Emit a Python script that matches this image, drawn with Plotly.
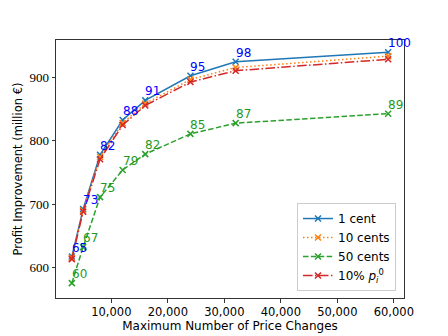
import plotly.graph_objects as go

# -----data-----
max_changes = [3000, 5000, 8000, 12000, 16000, 24000, 32000, 59000]
cent_1 = [617, 692, 778, 833, 864, 903, 925, 940]
cents_10 = [615, 690, 775, 828, 859, 897, 916, 934]
cents_50 = [575, 632, 711, 754, 779, 811, 828, 843]
pct_10 = [613, 688, 771, 825, 856, 893, 911, 929]
labels_1 = ["65", "73", "82", "88", "91", "95", "98", "100"]
labels_50 = ["60", "67", "75", "79", "82", "85", "87", "89"]
# --------------

series = [
    ("1 cent", cent_1, "#1f77b4", "solid"),
    ("10 cents", cents_10, "#ff7f0e", "1.5px,2.5px"),
    ("50 cents", cents_50, "#2ca02c", "5.5px,2.4px"),
    ("10% <i>p</i><sub><i>i</i></sub><sup>0</sup>", pct_10, "#d62728", "9.6px,2.4px,1.5px,2.4px"),
]

fig = go.Figure()
for name, ys, col, dash in series:
    fig.add_trace(go.Scatter(
        x=max_changes, y=ys, name=name, mode="lines+markers",
        line=dict(color=col, width=1.5, dash=dash),
        marker=dict(symbol="x-thin", size=6, line=dict(color=col, width=1.5), color=col)))

annots = []
for xs, ys, labs, col in [(max_changes, cent_1, labels_1, "blue"),
                          (max_changes, cents_50, labels_50, "#1f9a1f")]:
    for x, y, t in zip(xs, ys, labs):
        annots.append(dict(x=x, y=y, text=t, showarrow=False, xanchor="left", yanchor="bottom",
                           xshift=-2, yshift=0, font=dict(family="DejaVu Sans", size=12, color=col)))

# page body has an 8px margin, so the figure is sized to fit inside the window
fig.update_layout(
    width=440, height=328,
    margin=dict(l=48, r=44, t=32, b=38),
    paper_bgcolor="white", plot_bgcolor="white",
    font=dict(family="DejaVu Sans", size=12, color="black"),
    annotations=annots,
    showlegend=True,
    legend=dict(x=0.977, y=0.027, xanchor="right", yanchor="bottom",
                bordercolor="#cccccc", borderwidth=1, bgcolor="rgba(255,255,255,0.8)",
                font=dict(size=12), tracegroupgap=0, itemwidth=30),
    xaxis=dict(range=[200, 61800], tickvals=[10000, 20000, 30000, 40000, 50000, 60000],
               ticktext=["10,000", "20,000", "30,000", "40,000", "50,000", "60,000"],
               showgrid=False, zeroline=False, showline=True, linecolor="#333", linewidth=1,
               mirror=True, ticks="outside", ticklen=3.5, tickcolor="#333", automargin=False,
               tickfont=dict(size=11.5),
               title=dict(text="Maximum Number of Price Changes", standoff=2, font=dict(size=12))),
    yaxis=dict(range=[551.5, 959.5], tickvals=[600, 700, 800, 900],
               showgrid=False, zeroline=False, showline=True, linecolor="#333", linewidth=1,
               mirror=True, ticks="outside", ticklen=3.5, tickcolor="#333", automargin=False,
               tickfont=dict(family="Liberation Serif", size=13),
               title=dict(text="Profit Improvement (million €)", standoff=4, font=dict(size=11.5))),
)

fig.write_html("out.html")
